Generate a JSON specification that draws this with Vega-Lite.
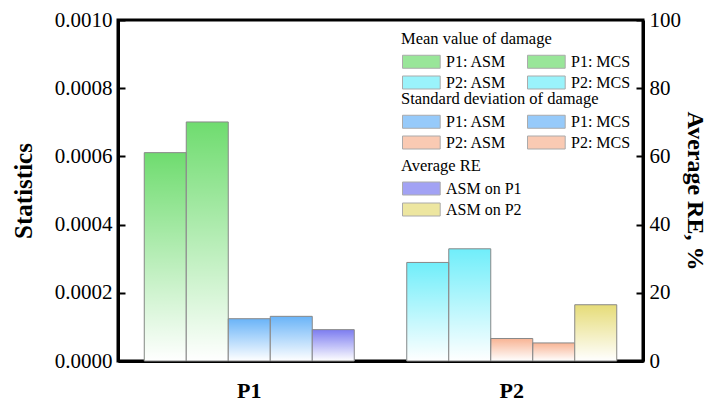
{
  "$schema": "https://vega.github.io/schema/vega-lite/v6.json",
  "width": 525,
  "height": 341,
  "autosize": {"type": "none"},
  "padding": {"left": 118, "top": 20, "right": 65, "bottom": 45},
  "background": "white",
  "data": {
    "values": [
      {"group": "P1", "s": "mA", "kind": "mean", "leg": "P1: ASM", "value": 0.000611},
      {"group": "P1", "s": "mM", "kind": "mean", "leg": "P1: MCS", "value": 0.000701},
      {"group": "P1", "s": "sA", "kind": "std", "leg": "P1: ASM", "value": 0.000124},
      {"group": "P1", "s": "sM", "kind": "std", "leg": "P1: MCS", "value": 0.000131},
      {"group": "P1", "s": "re", "kind": "re", "leg": "ASM on P1", "value": 9.2},
      {"group": "P2", "s": "mA", "kind": "mean", "leg": "P2: ASM", "value": 0.000289},
      {"group": "P2", "s": "mM", "kind": "mean", "leg": "P2: MCS", "value": 0.000329},
      {"group": "P2", "s": "sA", "kind": "std", "leg": "P2: ASM", "value": 0.000066},
      {"group": "P2", "s": "sM", "kind": "std", "leg": "P2: MCS", "value": 0.000053},
      {"group": "P2", "s": "re", "kind": "re", "leg": "ASM on P2", "value": 16.5}
    ]
  },
  "encoding": {
    "x": {
      "field": "group", "type": "nominal",
      "scale": {"paddingInner": 0.2, "paddingOuter": 0.1},
      "axis": {"title": null, "ticks": false, "labelAngle": 0, "labelFontSize": 22, "labelFontWeight": "bold", "labelPadding": 19, "domainWidth": 3}
    },
    "xOffset": {"field": "s", "type": "nominal", "scale": {"domain": ["mA", "mM", "sA", "sM", "re"], "paddingInner": 0, "paddingOuter": 0}}
  },
  "layer": [
    {
      "layer": [
        {
          "transform": [{"filter": "datum.kind === 'mean'"}],
          "mark": {"type": "bar"},
          "encoding": {
            "y": {"field": "value", "type": "quantitative", "scale": {"domain": [0, 0.001], "nice": false},
              "axis": {"orient": "left", "values": [0, 0.0001, 0.0002, 0.0003, 0.0004, 0.0005, 0.0006, 0.0007, 0.0008, 0.0009, 0.001], "format": ".4f",
                "labelExpr": "round(datum.value*10000) % 2 === 0 ? datum.label : ''",
                "tickSize": {"condition": {"test": "round(datum.value*10000) % 2 === 0", "value": -7}, "value": -4},
                "tickWidth": 2, "labelPadding": 13, "labelFontSize": 21, "grid": false, "domainWidth": 3,
                "title": "Statistics", "titleFontSize": 25, "titleFontWeight": "bold", "titlePadding": 18}},
            "color": {"field": "leg", "type": "nominal",
              "scale": {"domain": ["P1: ASM", "P2: ASM", "P1: MCS", "P2: MCS"], "range": ["#6fdc6f", "#70eefa", "#6fdc6f", "#70eefa"]},
              "legend": {"title": "Mean value of damage", "orient": "none", "legendX": 283, "legendY": 11, "columns": 2}}
          }
        },
        {
          "transform": [{"filter": "datum.kind === 'std'"}],
          "mark": {"type": "bar"},
          "encoding": {
            "y": {"field": "value", "type": "quantitative", "scale": {"domain": [0, 0.001], "nice": false}},
            "color": {"field": "leg", "type": "nominal",
              "scale": {"domain": ["P1: ASM", "P2: ASM", "P1: MCS", "P2: MCS"], "range": ["#6ab4f8", "#f8b494", "#6ab4f8", "#f8b494"]},
              "legend": {"title": "Standard deviation of damage", "orient": "none", "legendX": 283, "legendY": 71, "columns": 2}}
          }
        },
        {
          "transform": [{"filter": "datum.kind !== 're'"}],
          "mark": {"type": "bar", "stroke": "#888888", "strokeWidth": 1,
            "fill": {"gradient": "linear", "x1": 0, "y1": 0, "x2": 0, "y2": 1,
              "stops": [{"offset": 0, "color": "rgba(255,255,255,0)"}, {"offset": 1, "color": "rgba(255,255,255,1)"}]}},
          "encoding": {
            "y": {"field": "value", "type": "quantitative", "scale": {"domain": [0, 0.001], "nice": false}}
          }
        }
      ],
      "resolve": {"scale": {"color": "independent"}}
    },
    {
      "layer": [
        {
          "transform": [{"filter": "datum.kind === 're'"}],
          "mark": {"type": "bar"},
          "encoding": {
            "y": {"field": "value", "type": "quantitative", "scale": {"domain": [0, 100], "nice": false},
              "axis": {"orient": "right", "values": [0, 10, 20, 30, 40, 50, 60, 70, 80, 90, 100],
                "labelExpr": "datum.value % 20 === 0 ? datum.label : ''",
                "tickSize": {"condition": {"test": "datum.value % 20 === 0", "value": -7}, "value": -4},
                "tickWidth": 2, "labelPadding": 13, "labelFontSize": 21, "grid": false, "domainWidth": 3,
                "title": "Average RE, %", "titleFontSize": 24, "titleFontWeight": "bold", "titlePadding": 2}},
            "color": {"field": "leg", "type": "nominal",
              "scale": {"domain": ["ASM on P1", "ASM on P2"], "range": ["#7c7cf0", "#e6dc78"]},
              "legend": {"title": "Average RE", "orient": "none", "legendX": 283, "legendY": 138, "columns": 1}}
          }
        },
        {
          "transform": [{"filter": "datum.kind === 're'"}],
          "mark": {"type": "bar", "stroke": "#888888", "strokeWidth": 1,
            "fill": {"gradient": "linear", "x1": 0, "y1": 0, "x2": 0, "y2": 1,
              "stops": [{"offset": 0, "color": "rgba(255,255,255,0)"}, {"offset": 1, "color": "rgba(255,255,255,1)"}]}},
          "encoding": {
            "y": {"field": "value", "type": "quantitative", "scale": {"domain": [0, 100], "nice": false}}
          }
        }
      ]
    }
  ],
  "resolve": {"scale": {"y": "independent", "color": "independent"}},
  "config": {
    "font": "Liberation Serif",
    "view": {"stroke": "black", "strokeWidth": 3},
    "bar": {"opacity": 1},
    "axis": {"labelColor": "black", "titleColor": "black", "domainColor": "black", "tickColor": "black", "labelFont": "Liberation Serif", "titleFont": "Liberation Serif"},
    "legend": {"labelFont": "Liberation Serif", "titleFont": "Liberation Serif", "labelFontSize": 16, "titleFontSize": 16.5, "titleFontWeight": "normal", "titleColor": "black", "labelColor": "black", "titleLimit": 400, "labelLimit": 300,
      "symbolType": "M-1,-1H4.8V1H-1Z", "symbolSize": 169, "symbolStrokeColor": "#888888", "symbolStrokeWidth": 1, "symbolOpacity": 0.7,
      "rowPadding": 3, "columnPadding": 18, "padding": 0, "titlePadding": 6, "labelOffset": 29}
  }
}
